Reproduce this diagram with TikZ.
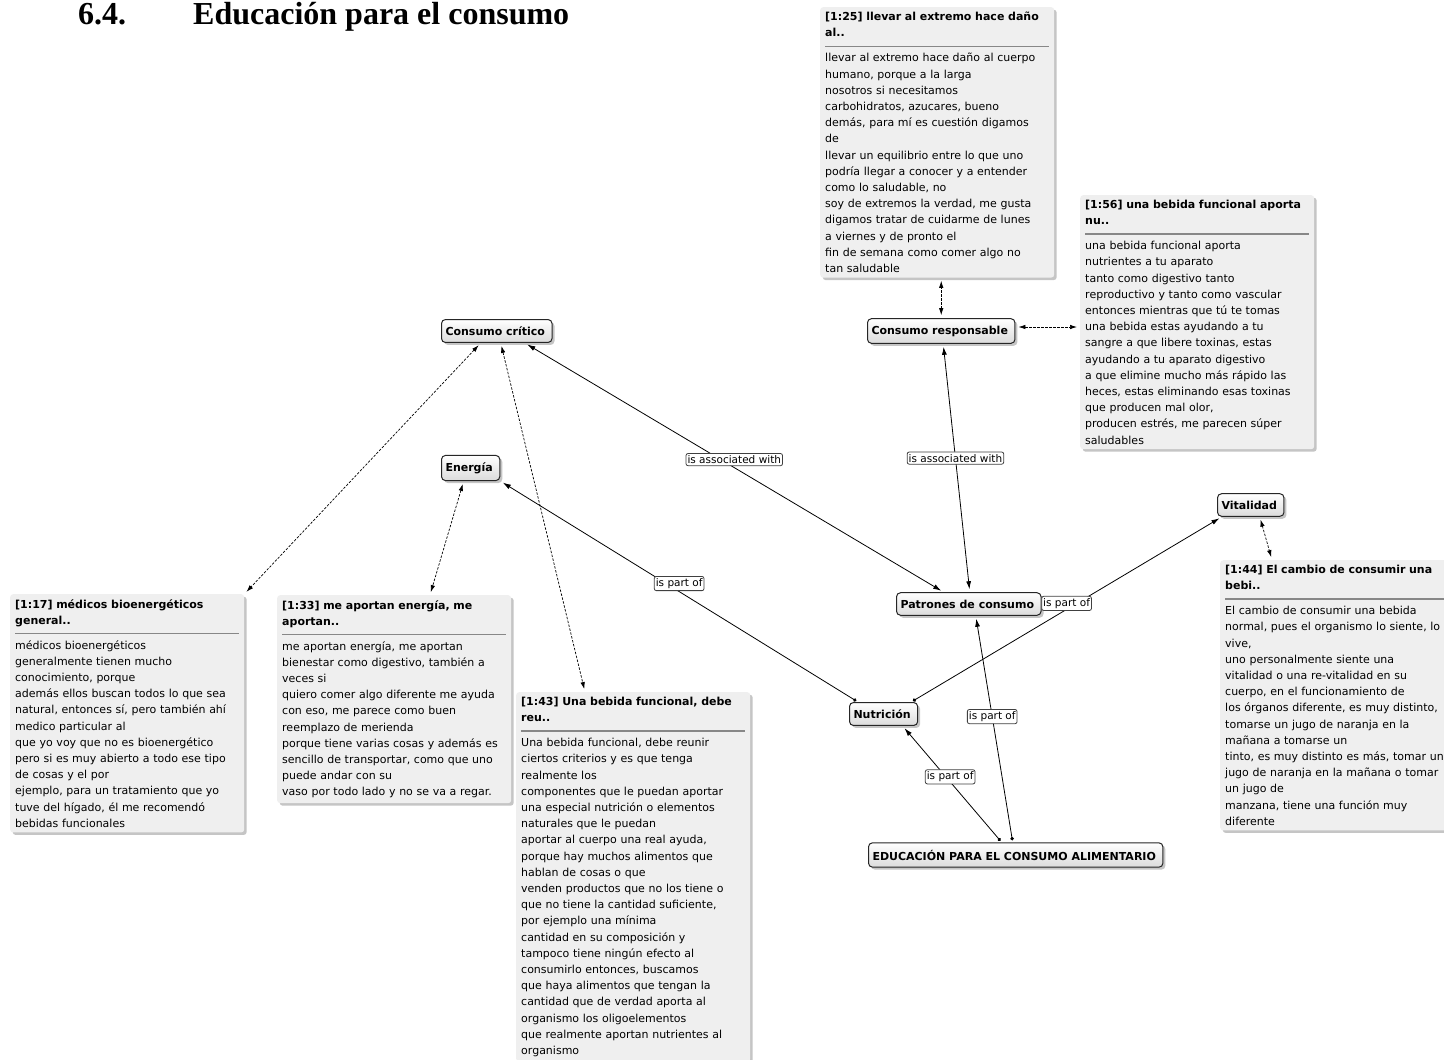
\documentclass[tikz,border=0pt]{standalone}
\usepackage{fontspec}
\setmainfont{DejaVu Sans}
\newfontfamily\titlefont{Liberation Serif}
\usetikzlibrary{arrows.meta,shadows}

\definecolor{memofill}{RGB}{239,239,239}
\definecolor{rulegray}{RGB}{135,135,135}

\newcommand{\memohead}[1]{{\bfseries #1\par}\vspace{-6pt}\noindent{\color{rulegray}\rule{\linewidth}{1.6pt}}\par\vspace{-1.5pt}}

\tikzset{
	concept/.style={draw=black!85, line width=1pt, rounded corners=4pt,
		top color=white, bottom color=black!14, anchor=west,
		drop shadow={shadow xshift=2.5pt, shadow yshift=-2.5pt, opacity=0.45},
		font=\fontsize{11}{12}\selectfont\bfseries, inner xsep=4pt, inner ysep=7pt,
		execute at end node=\hspace{3pt}},
	memo/.style={fill=memofill, rounded corners=3pt,
		drop shadow={shadow xshift=2.5pt, shadow yshift=-2.5pt, opacity=0.45},
		anchor=north west, align=left, text width=224pt, inner xsep=5pt, inner ysep=5pt,
		font=\fontsize{11}{16.2}\selectfont},
	relbox/.style={draw=black!75, fill=white, rounded corners=2pt, inner xsep=1.5pt,
		inner ysep=2pt, font=\fontsize{10.5}{12}\selectfont},
	partof/.style={{Circle[length=3.5pt]}-{Latex[length=8pt,width=5pt]}, line width=0.8pt,
		shorten >=3pt, shorten <=2pt},
	assoc/.style={{Latex[length=8pt,width=5pt]}-{Latex[length=8pt,width=5pt]}, line width=0.8pt,
		shorten >=3pt, shorten <=3pt},
	memolink/.style={{Latex[length=7pt,width=4.5pt]}-{Latex[length=7pt,width=4.5pt]},
		dash pattern=on 2.5pt off 1.5pt, line width=0.7pt, shorten >=3pt, shorten <=3pt},
}

\begin{document}
\begin{tikzpicture}[x=1pt, y=-1pt]

	\useasboundingbox (0,0) rectangle (1444,1060);
	\fill[white] (0,0) rectangle (1444,1060);

	% heading
	\node[anchor=base west, inner sep=0pt, font=\titlefont\fontsize{32}{34}\selectfont\bfseries] (numero) at (78,24) {6.4.};
	\node[anchor=base west, inner sep=0pt, font=\titlefont\fontsize{32}{34}\selectfont\bfseries] (titulo) at (193,24) {Educación para el consumo};

	% codes
	\node[concept] (ccrit) at (441,331) {Consumo crítico};
	\node[concept] (energia) at (441,468) {Energía};
	\node[concept] (cresp) at (867,331) {Consumo responsable};
	\node[concept] (patrones) at (896,604) {Patrones de consumo};
	\node[concept] (nutri) at (849,714) {Nutrición};
	\node[concept] (vital) at (1217,505) {Vitalidad};
	\node[concept] (edu) at (868,855) {EDUCACIÓN PARA EL CONSUMO ALIMENTARIO\hspace{4pt}};

	% quotations
	\node[memo] (m25) at (820,7) {\memohead{[1:25] llevar al extremo hace daño\\al..}
		llevar al extremo hace daño al cuerpo\\
		humano, porque a la larga\\
		nosotros si necesitamos\\
		carbohidratos, azucares, bueno\\
		demás, para mí es cuestión digamos\\
		de\\
		llevar un equilibrio entre lo que uno\\
		podría llegar a conocer y a entender\\
		como lo saludable, no\\
		soy de extremos la verdad, me gusta\\
		digamos tratar de cuidarme de lunes\\
		a viernes y de pronto el\\
		fin de semana como comer algo no\\
		tan saludable};

	\node[memo] (m56) at (1080,195) {\memohead{[1:56] una bebida funcional aporta\\nu..}
		una bebida funcional aporta\\
		nutrientes a tu aparato\\
		tanto como digestivo tanto\\
		reproductivo y tanto como vascular\\
		entonces mientras que tú te tomas\\
		una bebida estas ayudando a tu\\
		sangre a que libere toxinas, estas\\
		ayudando a tu aparato digestivo\\
		a que elimine mucho más rápido las\\
		heces, estas eliminando esas toxinas\\
		que producen mal olor,\\
		producen estrés, me parecen súper\\
		saludables};

	\node[memo] (m17) at (10,594) {\memohead{[1:17] médicos bioenergéticos\\general..}
		médicos bioenergéticos\\
		generalmente tienen mucho\\
		conocimiento, porque\\
		además ellos buscan todos lo que sea\\
		natural, entonces sí, pero también ahí\\
		medico particular al\\
		que yo voy que no es bioenergético\\
		pero si es muy abierto a todo ese tipo\\
		de cosas y el por\\
		ejemplo, para un tratamiento que yo\\
		tuve del hígado, él me recomendó\\
		bebidas funcionales};

	\node[memo] (m33) at (277,595) {\memohead{[1:33] me aportan energía, me\\aportan..}
		me aportan energía, me aportan\\
		bienestar como digestivo, también a\\
		veces si\\
		quiero comer algo diferente me ayuda\\
		con eso, me parece como buen\\
		reemplazo de merienda\\
		porque tiene varias cosas y además es\\
		sencillo de transportar, como que uno\\
		puede andar con su\\
		vaso por todo lado y no se va a regar.};

	\node[memo] (m43) at (516,692) {\memohead{[1:43] Una bebida funcional, debe\\reu..}
		Una bebida funcional, debe reunir\\
		ciertos criterios y es que tenga\\
		realmente los\\
		componentes que le puedan aportar\\
		una especial nutrición o elementos\\
		naturales que le puedan\\
		aportar al cuerpo una real ayuda,\\
		porque hay muchos alimentos que\\
		hablan de cosas o que\\
		venden productos que no los tiene o\\
		que no tiene la cantidad suficiente,\\
		por ejemplo una mínima\\
		cantidad en su composición y\\
		tampoco tiene ningún efecto al\\
		consumirlo entonces, buscamos\\
		que haya alimentos que tengan la\\
		cantidad que de verdad aporta al\\
		organismo los oligoelementos\\
		que realmente aportan nutrientes al\\
		organismo};

	\node[memo] (m44) at (1220,560) {\memohead{[1:44] El cambio de consumir una\\bebi..}
		El cambio de consumir una bebida\\
		normal, pues el organismo lo siente, lo\\
		vive,\\
		uno personalmente siente una\\
		vitalidad o una re-vitalidad en su\\
		cuerpo, en el funcionamiento de\\
		los órganos diferente, es muy distinto,\\
		tomarse un jugo de naranja en la\\
		mañana a tomarse un\\
		tinto, es muy distinto es más, tomar un\\
		jugo de naranja en la mañana o tomar\\
		un jugo de\\
		manzana, tiene una función muy\\
		diferente};

	% relations
	\draw[partof] ([xshift=9pt]nutri.north west) -- (energia.south east)
		node[relbox, pos=0.5, yshift=8pt] (rel1) {is part of};
	\draw[partof] ([xshift=-7pt]nutri.north east) -- ([xshift=5pt]vital.south west)
		node[relbox, pos=0.5, yshift=6pt] (rel2) {is part of};
	\draw[assoc] ([xshift=-25pt]patrones.north) -- ([xshift=28pt]ccrit.south)
		node[relbox, pos=0.5, yshift=8pt] (rel3) {is associated with};
	\draw[assoc] ([xshift=1pt]patrones.north) -- ([xshift=2pt]cresp.south)
		node[relbox, pos=0.54] (rel4) {is associated with};
	\draw[partof] ([xshift=-14pt]edu.north) -- ([xshift=19pt]nutri.south)
		node[relbox, pos=0.52, yshift=5pt] (rel5) {is part of};
	\draw[partof] ([xshift=-3pt]edu.north) -- ([xshift=7pt]patrones.south)
		node[relbox, pos=0.555] (rel6) {is part of};

	% quotation links
	\draw[memolink] ([xshift=-16pt]ccrit.south) -- (m17.north east);
	\draw[memolink] ([xshift=4pt]ccrit.south) -- ([xshift=69pt]m43.north west);
	\draw[memolink] ([xshift=-7pt]energia.south) -- ([xshift=153pt]m33.north west);
	\draw[memolink] (cresp.north) -- (cresp.north |- m25.south);
	\draw[memolink] ([yshift=4pt]cresp.east) -- ([yshift=4pt]cresp.east -| m56.west);
	\draw[memolink] ([xshift=9pt]vital.south) -- ([xshift=52pt]m44.north west);

\end{tikzpicture}
\end{document}
